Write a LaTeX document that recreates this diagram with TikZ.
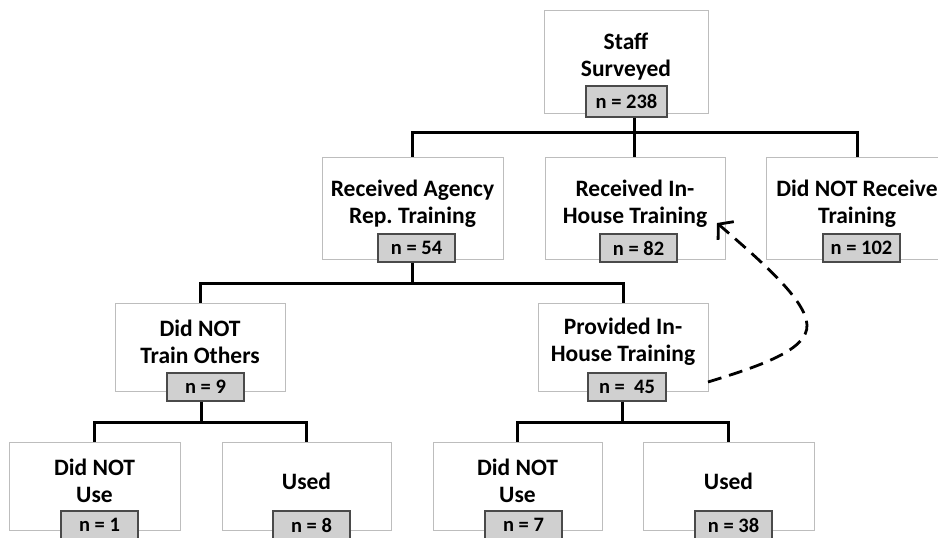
\documentclass[tikz,border=0pt]{standalone}
\usepackage{fontspec}
\setmainfont{Carlito}
\usetikzlibrary{arrows.meta}
\frenchspacing
\definecolor{boxline}{HTML}{BDBDBD}
\definecolor{nfill}{HTML}{D0D0D0}
\definecolor{nline}{HTML}{4A4A4A}
\tikzset{
  mainbox/.style={draw=boxline, line width=1pt, fill=white, inner sep=0pt},
  maintext/.style={align=center, inner sep=0pt, font=\fontsize{23.5}{27}\selectfont\bfseries},
  nbox/.style={draw=nline, line width=1.2pt, fill=nfill, inner sep=0pt, minimum width=77pt, minimum height=28pt, font=\fontsize{20.5}{23}\selectfont\bfseries},
  conn/.style={line width=3pt, black},
  dasharrow/.style={line width=2.8pt, dash pattern=on 14pt off 8pt, -{Straight Barb[length=10pt,width=24pt,line width=2.8pt]}}
}
\begin{document}
\begin{tikzpicture}[x=1pt,y=-1pt]
\useasboundingbox (0,0) rectangle (938,538);
\fill[white] (0,0) rectangle (938,538);

% level 0
\node[mainbox, minimum width=164pt, minimum height=103pt] (staff) at (626,61.5) {};
\node[maintext] (staffT) at (626,57) {Staff\\Surveyed};
\node[nbox, minimum width=81pt, minimum height=31pt] (n238) at (626.5,101.5) {n = 238};

% level 1
\node[mainbox, minimum width=181pt, minimum height=102pt] (rag) at (412.5,208) {};
\node[maintext] (ragT) at (412.5,204) {Received Agency\\Rep. Training};
\node[nbox] (n54) at (416.5,248) {n = 54};

\node[mainbox, minimum width=180pt, minimum height=102pt] (inh) at (635,208) {};
\node[maintext] (inhT) at (635,204) {Received In-\\House Training};
\node[nbox] (n82) at (638.5,248) {n = 82};

\node[mainbox, minimum width=182pt, minimum height=102pt] (dnr) at (857,208) {};
\node[maintext] (dnrT) at (857,204) {Did NOT Receive\\Training};
\node[nbox] (n102) at (861.5,248) {n = 102};

% level 2
\node[mainbox, minimum width=170pt, minimum height=88pt] (dnt) at (200,347) {};
\node[maintext] (dntT) at (200,342) {Did NOT\\Train Others};
\node[nbox] (n9) at (205.5,387) {n = 9};

\node[mainbox, minimum width=170pt, minimum height=88pt] (pit) at (623,347) {};
\node[maintext] (pitT) at (623,342) {Provided In-\\House Training};
\node[nbox, minimum width=78pt] (n45) at (627,387) {n =\ \ 45};

% level 3
\node[mainbox, minimum width=171pt, minimum height=88pt] (lu1) at (94.5,486) {};
\node[maintext] (lu1T) at (94.5,481) {Did NOT\\Use};
\node[nbox] (n1) at (99.5,525) {n = 1};

\node[mainbox, minimum width=169pt, minimum height=88pt] (us1) at (306.5,486) {};
\node[maintext] (us1T) at (306.5,481) {Used};
\node[nbox] (n8) at (311.5,525) {n = 8};

\node[mainbox, minimum width=169pt, minimum height=88pt] (lu2) at (517.5,486) {};
\node[maintext] (lu2T) at (517.5,481) {Did NOT\\Use};
\node[nbox] (n7) at (523.5,525) {n = 7};

\node[mainbox, minimum width=171pt, minimum height=88pt] (us2) at (728.5,486) {};
\node[maintext] (us2T) at (728.5,481) {Used};
\node[nbox] (n38) at (733.5,525) {n = 38};

% connectors
\coordinate (j1) at (634,132);
\coordinate (j2) at (412,283);
\coordinate (j3) at (201,422);
\coordinate (j4) at (622,422);
\draw[conn] (n238.south -| j1) -- (j1);
\draw[conn] (rag.north) |- (j1) -| (dnr.north);
\draw[conn] (j1) -- (inh.north -| j1);
\draw[conn] (n54.south -| j2) -- (j2);
\draw[conn] (dnt.north) |- (j2) -| (pit.north);
\draw[conn] (n9.south -| j3) -- (j3);
\draw[conn] (lu1.north) |- (j3) -| (us1.north);
\draw[conn] (n45.south -| j4) -- (j4);
\draw[conn] (lu2.north) |- (j4) -| (us2.north);

% dashed feedback arrow
\coordinate (as) at (708,382);
\coordinate (at) at (717,223);
\coordinate (ab) at (807,325);
\draw[dasharrow] (as) .. controls (760,366) and (808,350) .. (ab)
  .. controls (806,300) and (762,262) .. (at);
\end{tikzpicture}
\end{document}
